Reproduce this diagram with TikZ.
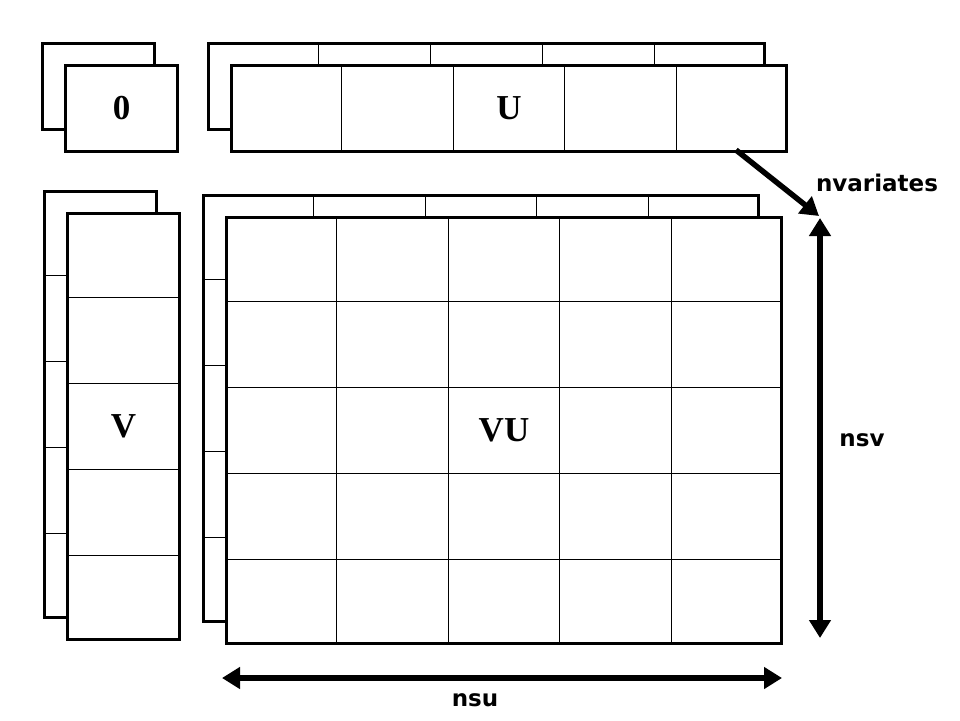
\documentclass[tikz,border=0pt]{standalone}
\usepackage{fontspec}
\setmainfont{Liberation Serif}
\setsansfont{DejaVu Sans}
\usepackage{tikz}
\usetikzlibrary{arrows.meta,calc,positioning}

\begin{document}
\begin{tikzpicture}[x=1pt,y=-1pt,
            panel/.style={draw,line width=3pt,fill=white,inner sep=0pt,anchor=north west},
            cell/.style={line width=1pt},
            dim/.style={line width=5.5pt,{Triangle[length=18pt,width=21pt]}-{Triangle[length=18pt,width=21pt]}},
            big/.style={font=\fontsize{35}{35}\selectfont\bfseries},
            tag/.style={font=\fontsize{23}{23}\selectfont\sffamily\bfseries}]
            \useasboundingbox (0,0) rectangle (960,720);
            % back layers
            \node[panel,minimum width=112pt,minimum height=86pt]  (zb) at (41,42)  {};
            \node[panel,minimum width=556pt,minimum height=86pt]  (ub) at (207,42) {};
            \node[panel,minimum width=112pt,minimum height=426pt] (vb) at (43,190) {};
            \node[panel,minimum width=555pt,minimum height=426pt] (wb) at (202,194) {};
            \foreach \i in {1,...,4} {
                \draw[cell] ($(ub.north west)!\i/5!(ub.north east)$) -- ($(ub.south west)!\i/5!(ub.south east)$);
                \draw[cell] ($(vb.north west)!\i/5!(vb.south west)$) -- ($(vb.north east)!\i/5!(vb.south east)$);
                \draw[cell] ($(wb.north west)!\i/5!(wb.north east)$) -- ($(wb.south west)!\i/5!(wb.south east)$);
                \draw[cell] ($(wb.north west)!\i/5!(wb.south west)$) -- ($(wb.north east)!\i/5!(wb.south east)$);
            }
            % front layers
            \node[panel,minimum width=112pt,minimum height=86pt]  (zf) at (64,64)   {};
            \node[panel,minimum width=555pt,minimum height=86pt]  (uf) at (230,64)  {};
            \node[panel,minimum width=112pt,minimum height=426pt] (vf) at (66,212)  {};
            \node[panel,minimum width=555pt,minimum height=426pt] (wf) at (225,216) {};
            \foreach \i in {1,...,4} {
                \draw[cell] ($(uf.north west)!\i/5!(uf.north east)$) -- ($(uf.south west)!\i/5!(uf.south east)$);
                \draw[cell] ($(vf.north west)!\i/5!(vf.south west)$) -- ($(vf.north east)!\i/5!(vf.south east)$);
                \draw[cell] ($(wf.north west)!\i/5!(wf.north east)$) -- ($(wf.south west)!\i/5!(wf.south east)$);
                \draw[cell] ($(wf.north west)!\i/5!(wf.south west)$) -- ($(wf.north east)!\i/5!(wf.south east)$);
            }
            \node[big] (zlab) at (zf.center) {0};
            \node[big] (ulab) at (uf.center) {U};
            \node[big] (vlab) at (vf.center) {V};
            \node[big] (wlab) at (wf.center) {VU};
            % dimensions
            \coordinate (nvtail) at (736,150);
            \coordinate (nvhead) at (819,216);
            \coordinate (svtop)  at (820,218);
            \coordinate (svbot)  at (820,638);
            \coordinate (suleft) at (222,678);
            \coordinate (suright) at (782,678);
            \draw[line width=5.5pt,-{Triangle[length=18pt,width=21pt]}] (nvtail) -- (nvhead);
            \draw[dim] (svtop) -- (svbot);
            \draw[dim] (suleft) -- (suright);
            \node[tag] (nvlab) at (877,183) {nvariates};
            \node[tag] (svlab) at (862,440) {nsv};
            \node[tag] (sulab) at (475,700) {nsu};
        \end{tikzpicture}
\end{document}
